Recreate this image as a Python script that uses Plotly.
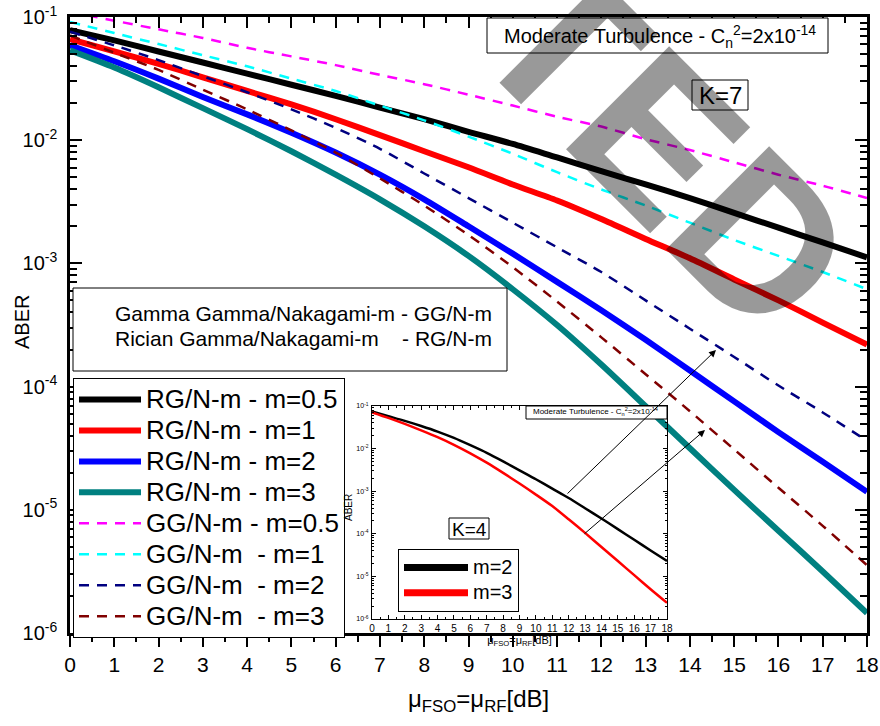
import plotly.graph_objects as go

# ---------------- data ----------------
x_db = list(range(19))

rg_m05 = [7.83e-2, 6.46e-2, 5.25e-2, 4.27e-2, 3.47e-2, 2.82e-2, 2.29e-2, 1.84e-2, 1.48e-2, 1.17e-2,
          9.33e-3, 7.24e-3, 5.62e-3, 4.37e-3, 3.39e-3, 2.57e-3, 1.95e-3, 1.48e-3, 1.12e-3]
rg_m1 = [6.61e-2, 5.25e-2, 4.17e-2, 3.24e-2, 2.51e-2, 1.95e-2, 1.48e-2, 1.10e-2, 8.13e-3, 6.03e-3,
         4.37e-3, 3.24e-3, 2.29e-3, 1.58e-3, 1.10e-3, 7.41e-4, 5.01e-4, 3.31e-4, 2.19e-4]
rg_m2 = [5.89e-2, 4.37e-2, 3.16e-2, 2.24e-2, 1.62e-2, 1.15e-2, 7.94e-3, 5.25e-3, 3.31e-3, 2.00e-3,
         1.20e-3, 7.08e-4, 4.17e-4, 2.40e-4, 1.35e-4, 7.59e-5, 4.27e-5, 2.45e-5, 1.40e-5]
rg_m3 = [5.37e-2, 3.89e-2, 2.69e-2, 1.82e-2, 1.23e-2, 8.13e-3, 5.25e-3, 3.31e-3, 2.00e-3, 1.15e-3,
         6.17e-4, 3.16e-4, 1.51e-4, 6.92e-5, 3.16e-5, 1.45e-5, 6.76e-6, 3.16e-6, 1.45e-6]
gg_m05 = [1.10e-1, 9.33e-2, 7.94e-2, 6.76e-2, 5.62e-2, 4.79e-2, 4.07e-2, 3.39e-2, 2.85e-2, 2.34e-2,
          1.91e-2, 1.55e-2, 1.29e-2, 1.02e-2, 8.32e-3, 6.61e-3, 5.25e-3, 4.27e-3, 3.39e-3]
gg_m1 = [9.12e-2, 7.41e-2, 6.03e-2, 4.90e-2, 3.98e-2, 3.16e-2, 2.51e-2, 1.91e-2, 1.45e-2, 1.07e-2,
         7.76e-3, 5.50e-3, 3.98e-3, 2.95e-3, 2.14e-3, 1.55e-3, 1.15e-3, 8.51e-4, 6.17e-4]
gg_m2 = [7.59e-2, 5.89e-2, 4.47e-2, 3.31e-2, 2.45e-2, 1.78e-2, 1.26e-2, 8.51e-3, 5.37e-3, 3.39e-3,
         2.14e-3, 1.35e-3, 8.51e-4, 5.01e-4, 2.95e-4, 1.74e-4, 1.02e-4, 6.17e-5, 3.63e-5]
gg_m3 = [7.08e-2, 5.13e-2, 3.72e-2, 2.57e-2, 1.78e-2, 1.20e-2, 7.94e-3, 4.90e-3, 2.95e-3, 1.70e-3,
         9.33e-4, 4.90e-4, 2.51e-4, 1.26e-4, 6.31e-5, 3.09e-5, 1.51e-5, 7.41e-6, 3.55e-6]

inset_m2 = [7.41e-2, 5.75e-2, 4.47e-2, 3.39e-2, 2.51e-2, 1.78e-2, 1.20e-2, 7.94e-3, 5.01e-3, 3.09e-3,
            1.91e-3, 1.15e-3, 6.92e-4, 3.98e-4, 2.29e-4, 1.29e-4, 7.24e-5, 4.07e-5, 2.29e-5]
inset_m3 = [7.08e-2, 5.25e-2, 3.80e-2, 2.69e-2, 1.86e-2, 1.23e-2, 7.76e-3, 4.68e-3, 2.69e-3, 1.51e-3,
            8.32e-4, 4.47e-4, 2.19e-4, 1.05e-4, 4.90e-5, 2.29e-5, 1.07e-5, 5.01e-6, 2.40e-6]

main_names = ["RG/N-m - m=0.5", "RG/N-m - m=1", "RG/N-m - m=2", "RG/N-m - m=3",
              "GG/N-m - m=0.5", "GG/N-m\u00a0 - m=1", "GG/N-m\u00a0 - m=2", "GG/N-m\u00a0 - m=3"]
main_series = [rg_m05, rg_m1, rg_m2, rg_m3, gg_m05, gg_m1, gg_m2, gg_m3]
main_colors = ["#000000", "#FF0000", "#0000FF", "#008080", "#FF00FF", "#00FFFF", "#000080", "#800000"]
inset_names = ["m=2", "m=3"]
inset_series = [inset_m2, inset_m3]
inset_colors = ["#000000", "#FF0000"]

decades = [-6, -5, -4, -3, -2, -1]
ytick_vals = [10.0 ** d for d in decades]
ytick_text = ["10<sup>%d</sup>" % d for d in decades]
yminor_vals = [k * 10.0 ** d for d in decades[:-1] for k in range(2, 10)]

# ---------------- layout helpers ----------------
W, H = 880, 726
L, R, T, B = 70, 867, 17, 633


def px(v):
    return (v - L) / (R - L)


def py(v):
    return (B - v) / (B - T)


SANS = "Liberation Sans, Arial, sans-serif"
NARROW = "Liberation Sans Narrow, Arial Narrow, Liberation Sans, Arial, sans-serif"

fig = go.Figure()

for i, (name, ys, col) in enumerate(zip(main_names, main_series, main_colors)):
    solid = i < 4
    fig.add_trace(go.Scatter(
        x=x_db, y=ys, mode="lines",
        name='<span style="font-size:26px">%s</span>' % name,
        line=dict(color=col, width=6 if solid else 2.5, shape="spline", smoothing=0.7,
                  dash="solid" if solid else "10px,8px"),
        xaxis="x", yaxis="y", legend="legend", hoverinfo="skip"))

# helper trace so the top (mirror) axis is drawn with inside ticks
fig.add_trace(go.Scatter(x=[None], y=[None], xaxis="x2", yaxis="y",
                         showlegend=False, hoverinfo="skip"))

for name, ys, col in zip(inset_names, inset_series, inset_colors):
    fig.add_trace(go.Scatter(x=x_db, y=ys, mode="lines",
                             line=dict(color=col, width=2.5, shape="spline", smoothing=0.7),
                             xaxis="x3", yaxis="y3", showlegend=False, hoverinfo="skip"))
    # legend entry with the thick symbol of the reference
    fig.add_trace(go.Scatter(x=[None], y=[None], mode="lines",
                             name='<span style="font-size:20px">%s</span>' % name,
                             line=dict(color=col, width=7),
                             xaxis="x3", yaxis="y3", legend="legend2", hoverinfo="skip"))

axis_common = dict(showgrid=False, zeroline=False, linecolor="black", tickcolor="black")

fig.update_layout(
    width=W, height=H,
    margin=dict(l=L, r=W - R, t=T, b=H - B, autoexpand=False),
    paper_bgcolor="white", plot_bgcolor="rgba(0,0,0,0)",
    font=dict(family=SANS, color="black"),
    xaxis=dict(domain=[0, 1], range=[0, 18], anchor="y", dtick=1, tick0=0,
               ticks="outside", ticklen=11, tickwidth=2, linewidth=2.5, mirror=True,
               minor=dict(dtick=0.5, ticks="outside", ticklen=6, tickwidth=2, tickcolor="black"),
               tickfont=dict(family=NARROW, size=21), ticklabelstandoff=0, **axis_common),
    xaxis2=dict(overlaying="x", side="top", anchor="y", range=[0, 18], dtick=1, tick0=0,
                ticks="inside", ticklen=11, tickwidth=2, showticklabels=False, showline=False,
                minor=dict(dtick=0.5, ticks="inside", ticklen=6, tickwidth=2, tickcolor="black"),
                **axis_common),
    yaxis=dict(domain=[0, 1], type="log", range=[-6, -1], anchor="x",
               tickmode="array", tickvals=ytick_vals, ticktext=ytick_text,
               ticks="inside", ticklen=12, tickwidth=2, linewidth=2.5, mirror="ticks",
               minor=dict(tickmode="array", tickvals=yminor_vals, ticks="inside",
                          ticklen=7, tickwidth=2, tickcolor="black"),
               tickfont=dict(family=SANS, size=20), ticklabelstandoff=6, **axis_common),
    xaxis3=dict(domain=[px(372), px(667)], range=[0, 18], anchor="y3", dtick=1, tick0=0,
                ticks="inside", ticklen=4, tickwidth=1, linewidth=1.2, mirror="ticks",
                minor=dict(dtick=0.5, ticks="inside", ticklen=2, tickwidth=1, tickcolor="black"),
                tickfont=dict(family=NARROW, size=10),
                title=dict(text="\u03bc<sub>FSO</sub>=\u03bc<sub>RF</sub>[dB]",
                           font=dict(family=NARROW, size=11), standoff=0),
                **axis_common),
    yaxis3=dict(domain=[py(619), py(406)], type="log", range=[-6, -1], anchor="x3",
                tickmode="array", tickvals=ytick_vals, ticktext=ytick_text,
                ticks="inside", ticklen=4, tickwidth=1, linewidth=1.2, mirror="ticks",
                minor=dict(tickmode="array", tickvals=yminor_vals, ticks="inside",
                           ticklen=2, tickwidth=1, tickcolor="black"),
                tickfont=dict(family=NARROW, size=7), ticklabelstandoff=1,
                **axis_common),
    legend=dict(x=px(73), y=py(378), xanchor="left", yanchor="top",
                bgcolor="white", bordercolor="black", borderwidth=1,
                font=dict(family=SANS, size=21.5), itemwidth=62, tracegroupgap=0),
    legend2=dict(x=px(398), y=py(549), xanchor="left", yanchor="top",
                 bgcolor="white", bordercolor="black", borderwidth=1,
                 font=dict(family=SANS, size=17), itemwidth=64),
    showlegend=True,
)

shapes = []


def box(x0, y0, x1, y1, lw=1):
    shapes.append(dict(type="rect", xref="paper", yref="paper",
                       x0=px(x0), x1=px(x1), y0=py(y1), y1=py(y0),
                       line=dict(color="black", width=lw), fillcolor="white", layer="above"))


box(487, 18, 828, 53)          # main title box
box(692, 80, 748, 110)         # K=7
box(73, 288, 507, 371)         # model description box
box(526, 406, 667, 419)        # inset title box
box(449, 518, 489, 539)        # K=4
fig.update_layout(shapes=shapes)

ann = []


def text(x, y, s, size, family=SANS, anchor="left", angle=0, color="black"):
    ann.append(dict(xref="paper", yref="paper", x=px(x), y=py(y), text=s, showarrow=False,
                    xanchor=anchor, yanchor="middle", textangle=angle,
                    font=dict(family=family, size=size, color=color)))


text(502, 36, "Moderate Turbulence - C<sub>n</sub><sup>2</sup>=2x10<sup>-14</sup>", 20)
text(720, 95, "K=7", 24, anchor="center")
text(113, 313, "Gamma Gamma/Nakagami-m - GG/N-m", 21)
text(113, 338, "Rician Gamma/Nakagami-m\u00a0\u00a0\u00a0\u00a0- RG/N-m", 21)
text(531, 412, "Moderate Turbulence - C<sub>n</sub><sup>2</sup>=2x10<sup>-14</sup>", 8)
text(469, 529, "K=4", 19, anchor="center")
text(22, 322, "ABER", 20, anchor="center", angle=-90)
text(348, 508, "ABER", 10, anchor="center", angle=-90)
text(478, 700, "\u03bc<sub>FSO</sub>=\u03bc<sub>RF</sub>[dB]", 24, family=NARROW, anchor="center")

# arrows from the inset to the main curves
for (hx, hy, tx, ty) in [(716, 350, 566, 495), (705, 430, 583, 535)]:
    ann.append(dict(xref="paper", yref="paper", x=px(hx), y=py(hy), ax=tx - hx, ay=ty - hy,
                    text="", showarrow=True, arrowhead=2, arrowsize=1.4, arrowwidth=1,
                    arrowcolor="black"))

# watermark
text(666, 146, "<b>TED</b>", 212, anchor="center", angle=45, color="rgba(0,0,0,0.4)")

fig.update_layout(annotations=ann)

fig.write_html("out.html")
